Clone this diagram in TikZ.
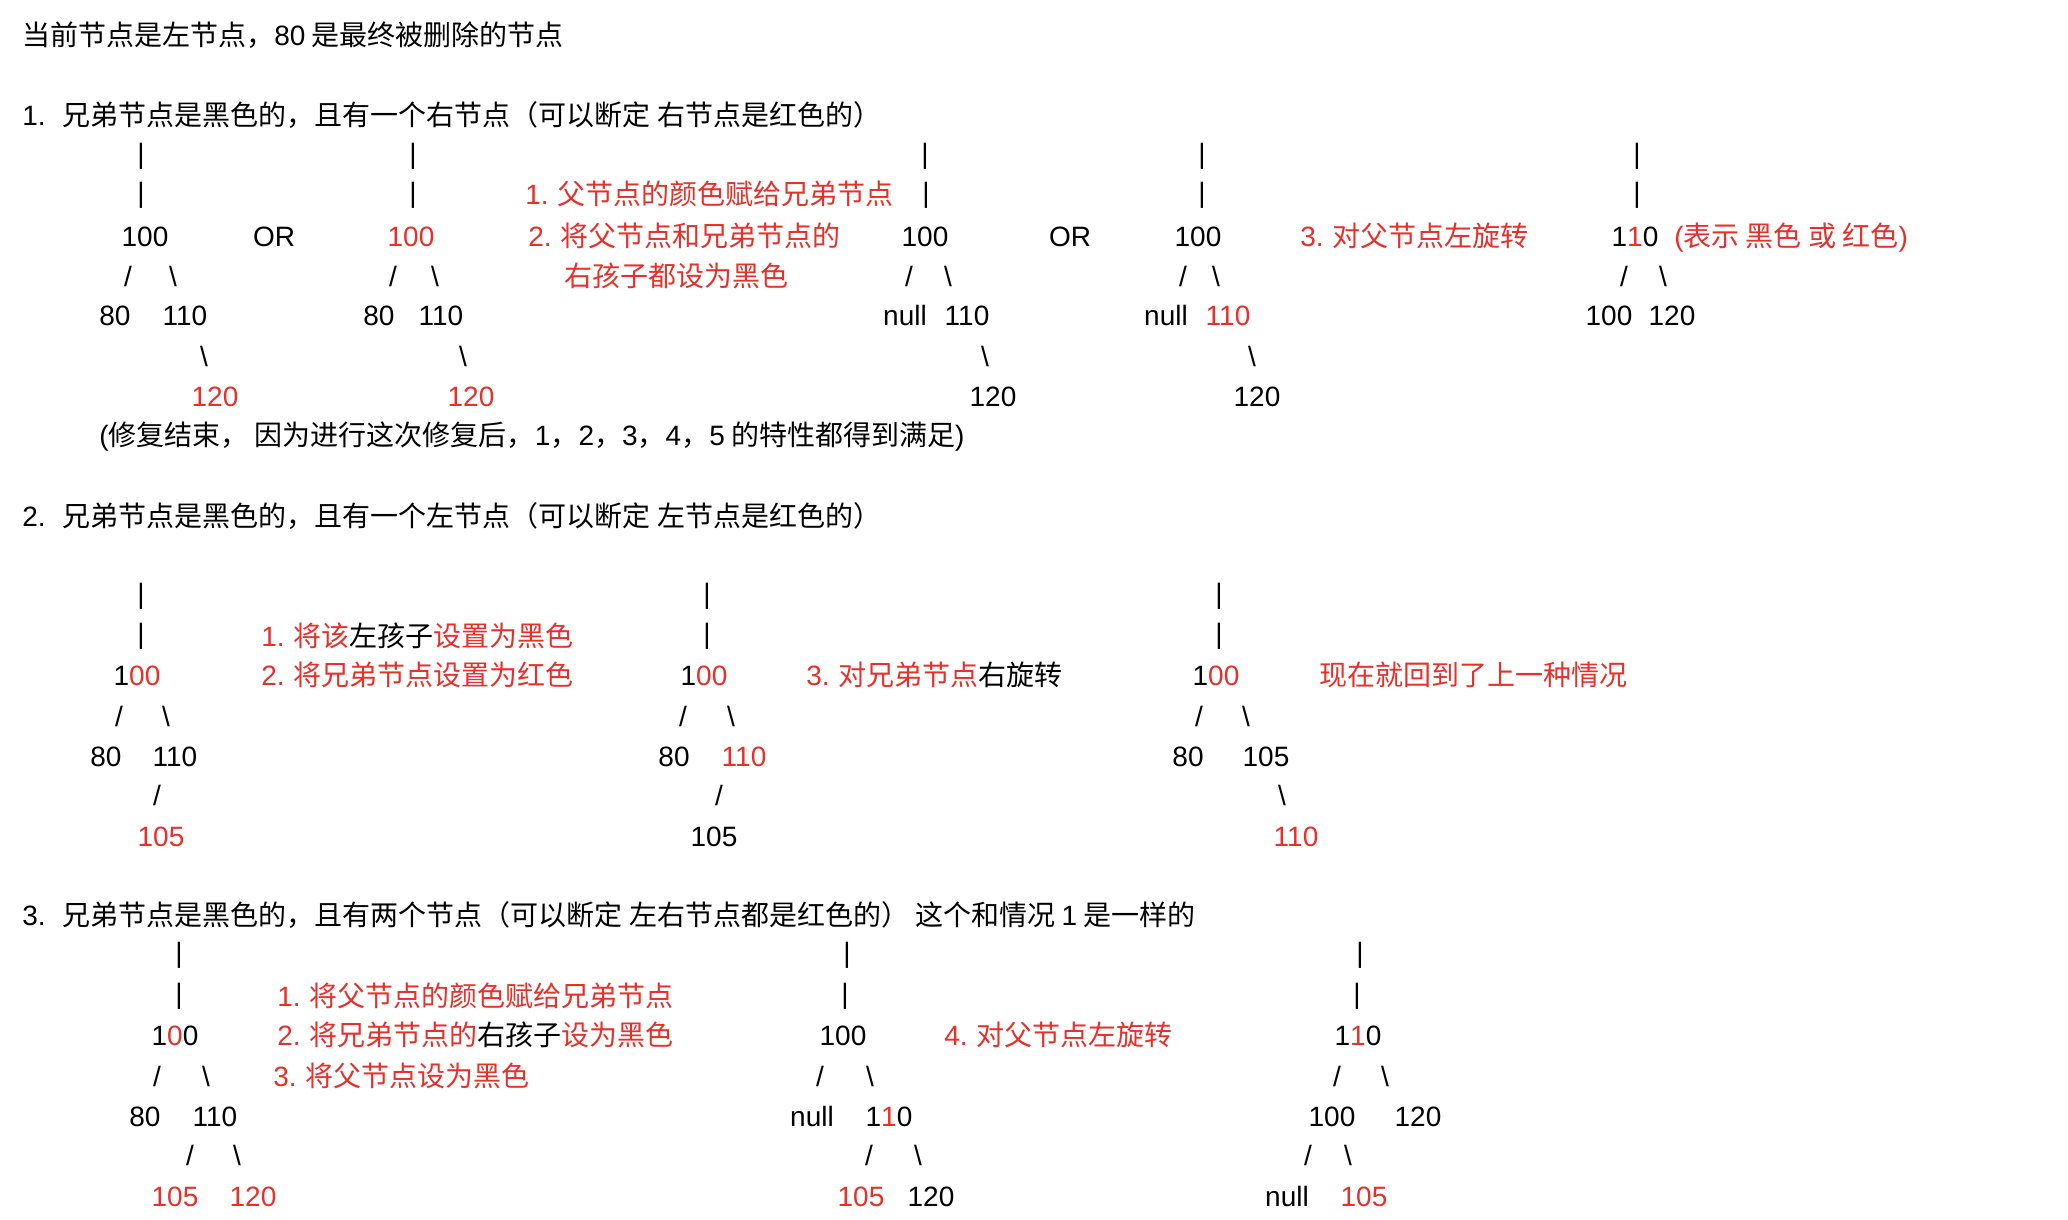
\documentclass[tikz,border=0pt]{standalone}
\usepackage{fontspec}
\setmainfont{Liberation Sans}
\newfontfamily\latn{Liberation Sans}
\newfontfamily\cjk{Noto Sans CJK SC}
\definecolor{rd}{RGB}{231,48,42}
\newcommand{\rtxt}[1]{\textcolor{rd}{#1}}
\newcommand{\btxt}[1]{\textcolor{black}{#1}}
\tikzset{
  tn/.style={font={\latn\fontsize{14}{16}\selectfont}, inner sep=0pt, anchor=base},
  cj/.style={font={\cjk\fontsize{14}{16}\selectfont}, inner sep=0pt, anchor=base west},
  rednote/.style={cj, text=rd}
}
\begin{document}
\begin{tikzpicture}[x=0.5pt,y=-0.5pt]
\fill[white] (0,0) rectangle (2068,1220);
\useasboundingbox (0,0) rectangle (2068,1220);

% title and headings
\node[cj] (title) at (22,46) {当前节点是左节点，{\latn 80} 是最终被删除的节点};
\node[cj] (h1) at (22,126) {{\latn 1.}\hspace{8.5pt}兄弟节点是黑色的，且有一个右节点（可以断定 右节点是红色的）};
\node[cj] (h2) at (22,526) {{\latn 2.}\hspace{8.5pt}兄弟节点是黑色的，且有一个左节点（可以断定 左节点是红色的）};
\node[cj] (h3) at (22,925) {{\latn 3.}\hspace{8.5pt}兄弟节点是黑色的，且有两个节点（可以断定 左右节点都是红色的） 这个和情况 {\latn 1} 是一样的};

% ---------- section 1 ----------
% tree a
\node[tn] (aB1) at (141,163) {|};
\node[tn] (aB2) at (141,202) {|};
\node[tn] (aP) at (145,246) {100};
\node[tn] (aL) at (128,286) {/};
\node[tn] (aR) at (173,286) {\textbackslash};
\node[tn] (aC1) at (115,325) {80};
\node[tn] (aC2) at (185,325) {110};
\node[tn] (aS) at (204,366) {\textbackslash};
\node[tn, text=rd] (aG) at (215,406) {120};
\node[tn] (or1) at (274,246) {OR};
% tree b
\node[tn] (bB1) at (413,163) {|};
\node[tn] (bB2) at (413,202) {|};
\node[tn, text=rd] (bP) at (411,246) {100};
\node[tn] (bL) at (393,286) {/};
\node[tn] (bR) at (435,286) {\textbackslash};
\node[tn] (bC1) at (379,325) {80};
\node[tn] (bC2) at (441,325) {110};
\node[tn] (bS) at (463,366) {\textbackslash};
\node[tn, text=rd] (bG) at (471,406) {120};
% notes
\node[rednote] (n11) at (525,205) {{\latn 1.} 父节点的颜色赋给兄弟节点};
\node[rednote] (n12) at (528,246) {{\latn 2.} 将父节点和兄弟节点的};
\node[rednote] (n13) at (564,286) {右孩子都设为黑色};
% tree c
\node[tn] (cB1) at (925,163) {|};
\node[tn] (cB2) at (926,202) {|};
\node[tn] (cP) at (925,246) {100};
\node[tn] (cL) at (909,286) {/};
\node[tn] (cR) at (948,286) {\textbackslash};
\node[tn] (cC1) at (905,325) {null};
\node[tn] (cC2) at (967,325) {110};
\node[tn] (cS) at (985,366) {\textbackslash};
\node[tn] (cG) at (993,406) {120};
\node[tn] (or2) at (1070,246) {OR};
% tree d
\node[tn] (dB1) at (1202,163) {|};
\node[tn] (dB2) at (1202,202) {|};
\node[tn] (dP) at (1198,246) {100};
\node[tn] (dL) at (1183,286) {/};
\node[tn] (dR) at (1216,286) {\textbackslash};
\node[tn] (dC1) at (1166,325) {null};
\node[tn, text=rd] (dC2) at (1228,325) {110};
\node[tn] (dS) at (1252,366) {\textbackslash};
\node[tn] (dG) at (1257,406) {120};
\node[rednote] (n14) at (1300,246) {{\latn 3.} 对父节点左旋转};
% tree e
\node[tn] (eB1) at (1637,163) {|};
\node[tn] (eB2) at (1637,202) {|};
\node[tn] (eP) at (1635,246) {1\rtxt{1}0};
\node[rednote] (n15) at (1674,246) {{\latn (}表示 黑色 或 红色{\latn )}};
\node[tn] (eL) at (1624,286) {/};
\node[tn] (eR) at (1663,286) {\textbackslash};
\node[tn] (eC1) at (1609,325) {100};
\node[tn] (eC2) at (1672,325) {120};
% remark
\node[cj] (rem) at (99,445) {{\latn (}修复结束， 因为进行这次修复后，{\latn 1}，{\latn 2}，{\latn 3}，{\latn 4}，{\latn 5} 的特性都得到满足{\latn )}};

% ---------- section 2 ----------
% tree f
\node[tn] (fB1) at (141,603) {|};
\node[tn] (fB2) at (141,643) {|};
\node[tn] (fP) at (137,685) {1\rtxt{00}};
\node[tn] (fL) at (119,726) {/};
\node[tn] (fR) at (166,726) {\textbackslash};
\node[tn] (fC1) at (106,766) {80};
\node[tn] (fC2) at (175,766) {110};
\node[tn] (fS) at (157,805) {/};
\node[tn, text=rd] (fG) at (161,846) {105};
\node[rednote] (n21) at (261,646) {{\latn 1.} 将该\btxt{左孩子}设置为黑色};
\node[rednote] (n22) at (261,685) {{\latn 2.} 将兄弟节点设置为红色};
% tree g
\node[tn] (gB1) at (707,603) {|};
\node[tn] (gB2) at (707,643) {|};
\node[tn] (gP) at (704,685) {1\rtxt{00}};
\node[tn] (gL) at (683,726) {/};
\node[tn] (gR) at (731,726) {\textbackslash};
\node[tn] (gC1) at (674,766) {80};
\node[tn, text=rd] (gC2) at (744,766) {110};
\node[tn] (gS) at (719,805) {/};
\node[tn] (gG) at (714,846) {105};
\node[rednote] (n23) at (806,685) {{\latn 3.} 对兄弟节点\btxt{右旋转}};
% tree h
\node[tn] (hB1) at (1219,603) {|};
\node[tn] (hB2) at (1219,643) {|};
\node[tn] (hP) at (1216,685) {1\rtxt{00}};
\node[tn] (hL) at (1199,726) {/};
\node[tn] (hR) at (1246,726) {\textbackslash};
\node[tn] (hC1) at (1188,766) {80};
\node[tn] (hC2) at (1266,766) {105};
\node[tn] (hS) at (1282,805) {\textbackslash};
\node[tn, text=rd] (hG) at (1296,846) {110};
\node[rednote] (n24) at (1319,685) {现在就回到了上一种情况};

% ---------- section 3 ----------
% tree i
\node[tn] (iB1) at (179,962) {|};
\node[tn] (iB2) at (179,1003) {|};
\node[tn] (iP) at (175,1045) {1\rtxt{0}0};
\node[tn] (iL) at (157,1086) {/};
\node[tn] (iR) at (206,1086) {\textbackslash};
\node[tn] (iC1) at (145,1126) {80};
\node[tn] (iC2) at (215,1126) {110};
\node[tn] (iL2) at (190,1165) {/};
\node[tn] (iR2) at (237,1165) {\textbackslash};
\node[tn, text=rd] (iG1) at (175,1206) {105};
\node[tn, text=rd] (iG2) at (253,1206) {120};
\node[rednote] (n31) at (277,1006) {{\latn 1.} 将父节点的颜色赋给兄弟节点};
\node[rednote] (n32) at (277,1045) {{\latn 2.} 将兄弟节点的\btxt{右孩子}设为黑色};
\node[rednote] (n33) at (273,1086) {{\latn 3.} 将父节点设为黑色};
% tree j
\node[tn] (jB1) at (847,962) {|};
\node[tn] (jB2) at (845,1003) {|};
\node[tn] (jP) at (843,1045) {100};
\node[tn] (jL) at (820,1086) {/};
\node[tn] (jR) at (870,1086) {\textbackslash};
\node[tn] (jC1) at (812,1126) {null};
\node[tn] (jC2) at (889,1126) {1\rtxt{1}0};
\node[tn] (jL2) at (869,1165) {/};
\node[tn] (jR2) at (918,1165) {\textbackslash};
\node[tn, text=rd] (jG1) at (861,1206) {105};
\node[tn] (jG2) at (931,1206) {120};
\node[rednote] (n34) at (944,1045) {{\latn 4.} 对父节点左旋转};
% tree k
\node[tn] (kB1) at (1360,962) {|};
\node[tn] (kB2) at (1357,1003) {|};
\node[tn] (kP) at (1358,1045) {1\rtxt{1}0};
\node[tn] (kL) at (1337,1086) {/};
\node[tn] (kR) at (1385,1086) {\textbackslash};
\node[tn] (kC1) at (1332,1126) {100};
\node[tn] (kC2) at (1418,1126) {120};
\node[tn] (kL2) at (1308,1165) {/};
\node[tn] (kR2) at (1348,1165) {\textbackslash};
\node[tn] (kG1) at (1287,1206) {null};
\node[tn, text=rd] (kG2) at (1364,1206) {105};
\end{tikzpicture}
\end{document}
